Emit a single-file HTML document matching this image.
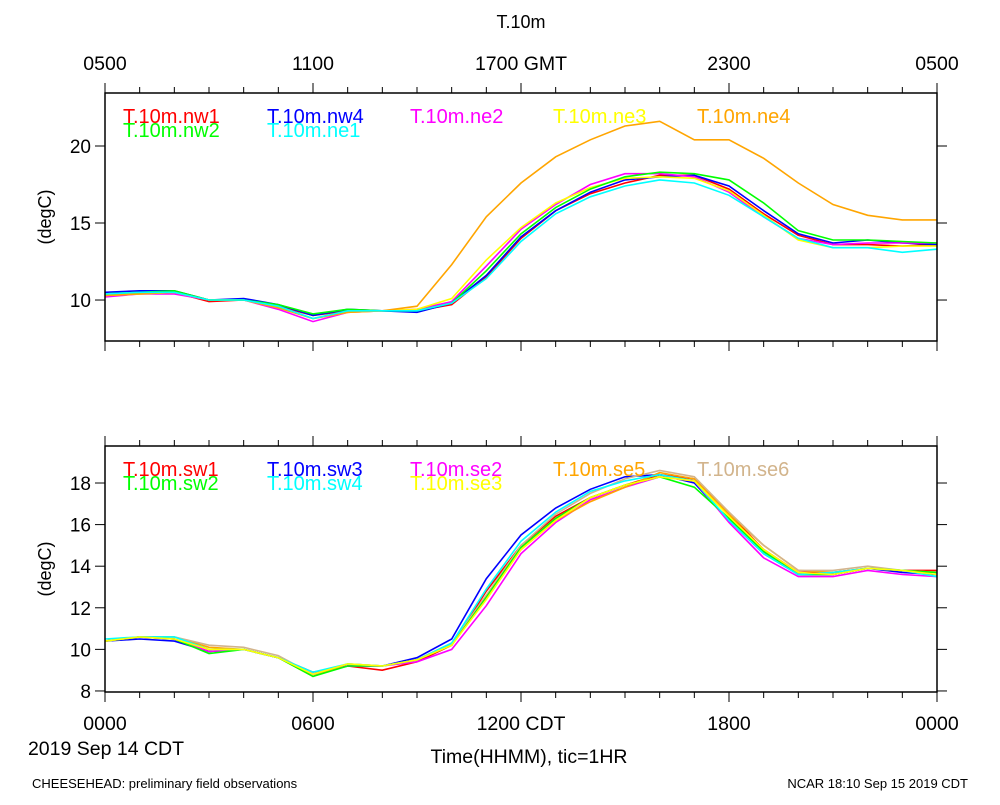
<!DOCTYPE html>
<html><head><meta charset="utf-8"><style>
body{margin:0;background:#fff}
svg text{font-family:"Liberation Sans",sans-serif}
</style></head><body>
<svg id="chart" width="1000" height="800" xmlns="http://www.w3.org/2000/svg">
<text x="521" y="28" font-size="18" text-anchor="middle">T.10m</text>
<text x="51" y="217" font-size="18" text-anchor="middle" transform="rotate(-90 51 217)">(degC)</text>
<text x="51" y="569" font-size="18" text-anchor="middle" transform="rotate(-90 51 569)">(degC)</text>
<text x="106" y="755" font-size="19.5" text-anchor="middle">2019 Sep 14 CDT</text>
<text x="529" y="763" font-size="19.5" text-anchor="middle">Time(HHMM), tic=1HR</text>
<text x="32" y="788" font-size="13">CHEESEHEAD: preliminary field observations</text>
<text x="968" y="788" font-size="13" text-anchor="end">NCAR 18:10 Sep 15 2019 CDT</text>
</svg>
<script>
const hours=[0,1,2,3,4,5,6,7,8,9,10,11,12,13,14,15,16,17,18,19,20,21,22,23,24];
const topTickLabels=["0500","1100","1700 GMT","2300","0500"];
const bottomTickLabels=["0000","0600","1200 CDT","1800","0000"];
const topYTicks=[10,15,20];
const bottomYTicks=[8,10,12,14,16,18];
const topNames=["T.10m.nw1","T.10m.nw4","T.10m.ne2","T.10m.ne3","T.10m.ne4","T.10m.nw2","T.10m.ne1"];
const topColors=["#ff0000","#0000ff","#ff00ff","#ffff00","#ffa500","#00ff00","#00ffff"];
const nw1=[10.4,10.5,10.5,9.9,10.0,9.6,9.0,9.3,9.3,9.3,9.7,11.5,14.0,15.8,16.9,17.6,18.1,18.1,17.2,15.6,14.2,13.6,13.6,13.5,13.6];
const nw4=[10.5,10.6,10.6,10.0,10.1,9.7,9.0,9.4,9.3,9.2,9.8,11.6,14.1,15.8,17.0,17.8,18.0,18.1,17.4,15.8,14.3,13.7,13.9,13.7,13.6];
const ne2=[10.2,10.4,10.4,10.0,10.0,9.4,8.6,9.2,9.3,9.4,9.9,12.2,14.6,16.2,17.5,18.2,18.2,18.0,17.0,15.4,14.0,13.6,13.7,13.7,13.7];
const ne3=[10.3,10.4,10.5,10.0,10.0,9.5,8.8,9.2,9.3,9.4,10.1,12.6,14.7,16.3,17.3,17.9,18.0,17.9,17.1,15.5,13.9,13.4,13.4,13.5,13.5];
const ne4=[10.3,10.4,10.5,10.0,10.0,9.5,8.8,9.2,9.3,9.6,12.3,15.4,17.6,19.3,20.4,21.3,21.6,20.4,20.4,19.2,17.6,16.2,15.5,15.2,15.2];
const nw2=[10.4,10.5,10.6,10.0,10.0,9.7,9.1,9.4,9.3,9.3,9.8,11.9,14.3,16.0,17.2,18.0,18.3,18.2,17.8,16.3,14.5,13.9,13.9,13.8,13.7];
const ne1=[10.4,10.5,10.5,10.0,10.0,9.6,8.8,9.3,9.3,9.3,9.8,11.4,13.8,15.6,16.7,17.4,17.8,17.6,16.8,15.4,14.0,13.4,13.4,13.1,13.3];
const topSeries=[nw1,nw4,ne2,ne3,ne4,nw2,ne1];
const botNames=["T.10m.sw1","T.10m.sw3","T.10m.se2","T.10m.se5","T.10m.se6","T.10m.sw2","T.10m.sw4","T.10m.se3"];
const botColors=["#ff0000","#0000ff","#ff00ff","#ffa500","#d2b48c","#00ff00","#00ffff","#ffff00"];
const sw1=[10.4,10.6,10.5,9.9,10.0,9.6,8.9,9.2,9.0,9.4,10.2,12.8,15.0,16.4,17.3,17.9,18.4,18.2,16.5,14.8,13.7,13.7,13.9,13.8,13.8];
const sw3=[10.4,10.5,10.4,9.9,10.0,9.6,8.8,9.2,9.2,9.6,10.5,13.4,15.5,16.8,17.7,18.3,18.4,18.0,16.2,14.6,13.6,13.6,13.9,13.7,13.6];
const se2=[10.4,10.6,10.5,9.9,10.0,9.6,8.8,9.2,9.2,9.4,10.0,12.1,14.6,16.1,17.2,17.8,18.3,18.1,16.1,14.4,13.5,13.5,13.8,13.6,13.5];
const se5=[10.4,10.6,10.6,10.1,10.0,9.6,8.7,9.3,9.2,9.5,10.3,12.6,14.8,16.2,17.1,17.8,18.5,18.2,16.5,15.0,13.8,13.7,13.9,13.8,13.7];
const se6=[10.4,10.6,10.6,10.2,10.1,9.7,8.8,9.3,9.2,9.5,10.3,12.6,15.0,16.5,17.5,18.2,18.6,18.3,16.6,15.0,13.8,13.8,14.0,13.8,13.7];
const sw2=[10.4,10.6,10.5,9.8,10.0,9.6,8.7,9.2,9.2,9.5,10.2,12.5,14.9,16.3,17.3,17.9,18.3,17.8,16.3,14.7,13.6,13.6,13.9,13.8,13.7];
const sw4=[10.5,10.6,10.6,10.0,10.0,9.6,8.9,9.3,9.2,9.5,10.3,12.9,15.2,16.6,17.6,18.1,18.4,18.1,16.2,14.6,13.6,13.7,13.9,13.8,13.5];
const se3=[10.4,10.6,10.5,10.0,10.0,9.6,8.8,9.3,9.2,9.5,10.2,12.4,14.8,16.2,17.3,17.9,18.3,18.1,16.4,14.8,13.7,13.6,13.9,13.8,13.6];
const botSeries=[sw1,sw3,se2,se5,se6,sw2,sw4,se3];

const NS="http://www.w3.org/2000/svg";
const svg=document.getElementById('chart');
const X0=105,X1=937;
const xs=h=>X0+(X1-X0)*h/24;
function mk(tag,attrs,parent){const e=document.createElementNS(NS,tag);for(const k in attrs)e.setAttribute(k,attrs[k]);(parent||svg).appendChild(e);return e;}

function panel(pname,top,bot,ymin,ymax,yticks,xlabels,labelY,series,colors,names){
  const ys=v=>bot-(v-ymin)*(bot-top)/(ymax-ymin);
  const g=mk('g',{});
  
  
  for(let h=0;h<=24;h++){
    const len=h%6===0?10:6;const x=xs(h);
    const t1=mk('line',{x1:x,x2:x,y1:top,y2:top-len,stroke:'#000','stroke-width':1},g);
    
    
    const t2=mk('line',{x1:x,x2:x,y1:bot,y2:bot+len,stroke:'#000','stroke-width':1},g);
    
    
  }
  xlabels.forEach((l,i)=>{
    const t=mk('text',{x:xs(i*6),y:labelY,'font-size':19.5,'text-anchor':'middle'},g);
    t.textContent=l;
    
    
  });
  yticks.forEach(v=>{
    const y=ys(v);
    const a=mk('line',{x1:X0,x2:X0-10,y1:y,y2:y,stroke:'#000'},g);
    
    
    const b=mk('line',{x1:X1,x2:X1+10,y1:y,y2:y,stroke:'#000'},g);
    
    
    const t=mk('text',{x:X0-14,y:y+7,'font-size':19,'text-anchor':'end'},g);
    t.textContent=v;
    
    
  });
  series.forEach((s,i)=>{
    const d=s.map((v,j)=>(j?'L':'M')+xs(hours[j]).toFixed(1)+','+ys(v).toFixed(1)).join('');
    const p=mk('path',{d:d,fill:'none',stroke:colors[i],'stroke-width':1.6},g);
    
    
  });
  const fr=mk('rect',{x:X0,y:top,width:X1-X0,height:bot-top,fill:'none',stroke:'#000','stroke-width':1.5},g);
  
  
  const lx=[123,267,410,553,697];
  names.forEach((n,i)=>{
    const row=i<5?0:1;const col=i<5?i:i-5;
    const t=mk('text',{x:lx[col],y:top+30+row*14,'font-size':20,fill:colors[i]},g);
    t.textContent=n;
    
    
  });
}
panel('top',93,341,7.34,23.44,topYTicks,topTickLabels,70,topSeries,topColors,topNames);
panel('bottom',446,692,7.95,19.78,bottomYTicks,bottomTickLabels,730,botSeries,botColors,botNames);
</script>
</body></html>
